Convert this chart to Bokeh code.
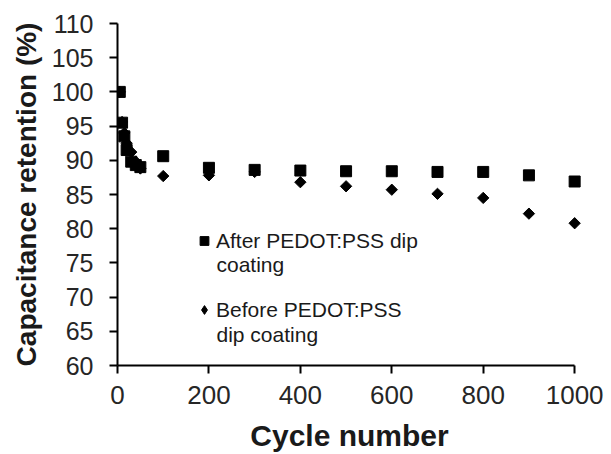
import numpy as np
from bokeh.plotting import figure
from bokeh.models import Range1d, Legend, LegendItem, FixedTicker, Label
from bokeh.embed import file_html
from bokeh.resources import INLINE

# ---- data ----
cycles = [5, 10, 15, 20, 30, 40, 50, 100, 200, 300, 400, 500, 600, 700, 800, 900, 1000]
after = [100.0, 95.5, 93.5, 91.5, 89.8, 89.3, 89.0, 90.6, 88.9, 88.6, 88.5, 88.4, 88.4, 88.3, 88.3, 87.8, 86.9]
before = [100.0, 95.6, 94.0, 92.5, 91.2, 89.8, 88.8, 87.7, 87.8, 88.3, 86.8, 86.2, 85.7, 85.1, 84.5, 82.2, 80.8]
x_ticks = [0, 200, 400, 600, 800, 1000]
y_ticks = [60, 65, 70, 75, 80, 85, 90, 95, 100, 105, 110]
label_after = ["After PEDOT:PSS dip", "coating"]
label_before = ["Before PEDOT:PSS", "dip coating"]

FONT = "Liberation Sans"

p = figure(width=611, height=454, output_backend="svg", toolbar_location=None,
           x_range=Range1d(0, 1015), y_range=Range1d(60, 110))
p.min_border_left = 117
p.min_border_right = 30
p.min_border_top = 23
p.min_border_bottom = 89
p.outline_line_color = None
p.xgrid.visible = False
p.ygrid.visible = False
p.background_fill_color = "white"
p.border_fill_color = "white"

r_before = p.scatter(cycles, before, marker="square", size=8, angle=np.pi / 4,
                     fill_color="black", line_color="black")
r_after = p.scatter(cycles, after, marker="square", size=11,
                    fill_color="black", line_color="black")
# legend key for the diamond series (legend keys ignore marker rotation);
# its single point has no y value, so it is not drawn in the plot area
r_key = p.scatter(x=[cycles[0]], y=[np.nan], marker="diamond", size=10,
                  fill_color="black", line_color="black")

for ax in (p.xaxis[0], p.yaxis[0]):
    ax.axis_line_color = "black"
    ax.axis_line_width = 2
    ax.major_tick_line_color = "black"
    ax.major_tick_line_width = 2
    ax.major_tick_out = 8
    ax.major_tick_in = 0
    ax.minor_tick_line_color = None
    ax.major_label_text_font = FONT
    ax.major_label_text_color = "#262626"
    ax.axis_label_text_font = FONT
    ax.axis_label_text_font_style = "bold"
    ax.axis_label_text_color = "#1a1a1a"

p.xaxis.bounds = (0, 1000)
p.xaxis.ticker = FixedTicker(ticks=x_ticks)
p.yaxis.ticker = FixedTicker(ticks=y_ticks)
p.xaxis.axis_label = "Cycle number"
p.yaxis.axis_label = "Capacitance retention (%)"
p.xaxis.major_label_text_font_size = "26px"
p.yaxis.major_label_text_font_size = "25px"
p.xaxis.axis_label_text_font_size = "30px"
p.yaxis.axis_label_text_font_size = "28px"
p.xaxis.major_label_standoff = 12
p.yaxis.major_label_standoff = 16
p.xaxis.axis_label_standoff = 12
p.yaxis.axis_label_standoff = 7

legend = Legend(items=[LegendItem(label=label_after[0], renderers=[r_after]),
                       LegendItem(label=label_before[0], renderers=[r_key])],
                location=(76, 43))
legend.border_line_alpha = 0
legend.background_fill_alpha = 0
legend.label_text_font = FONT
legend.label_text_font_size = "21px"
legend.label_text_color = "#1a1a1a"
legend.glyph_width = 22
legend.glyph_height = 25
legend.label_height = 25
legend.label_standoff = 1
legend.padding = 0
legend.spacing = 44
legend.margin = 0
p.add_layout(legend, "center")

for txt, yy in ((label_after[1], 101), (label_before[1], 31)):
    p.add_layout(Label(x=99, y=yy, x_units="screen", y_units="screen", text=txt,
                       text_font=FONT, text_font_size="21px", text_color="#1a1a1a",
                       text_baseline="alphabetic"))

open("out.html", "w").write(file_html(p, INLINE))
